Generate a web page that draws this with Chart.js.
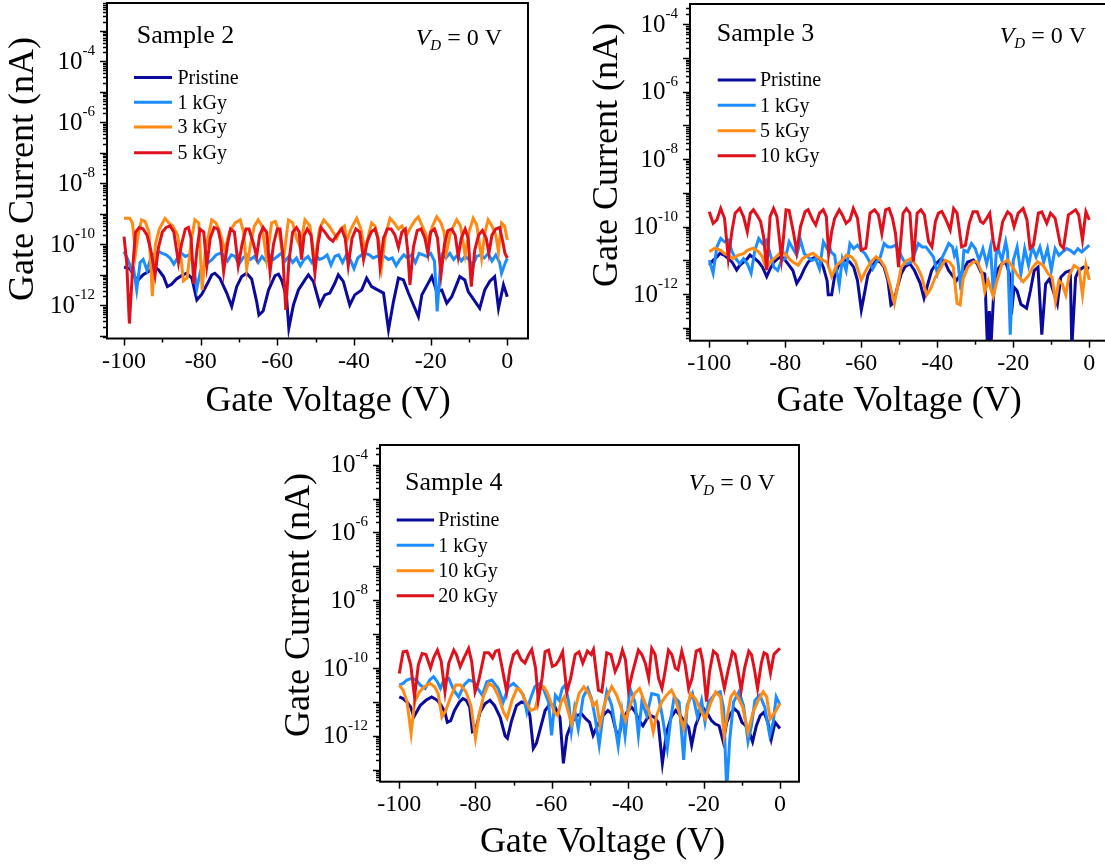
<!DOCTYPE html>
<html>
<head>
<meta charset="utf-8">
<title>Gate current vs gate voltage</title>
<script src="https://cdn.jsdelivr.net/npm/chart.js@4.4.1/dist/chart.umd.min.js"></script>
<style>
  html, body { margin: 0; padding: 0; background: #fff; overflow: hidden; width: 1105px; height: 864px; }
  .panel { position: absolute; }
</style>
</head>
<body>
<div class="panel" style="left:0px;top:0px"><canvas id="sample2" width="560" height="430"></canvas></div>
<div class="panel" style="left:580px;top:0px"><canvas id="sample3" width="560" height="430"></canvas></div>
<div class="panel" style="left:280px;top:440px"><canvas id="sample4" width="560" height="424"></canvas></div>
<script>
// tick values
const voltageMajorTicks = [-100, -80, -60, -40, -20, 0];
const voltageMinorTicks = [-90, -70, -50, -30, -10];
const decadeLabels = [-4, -6, -8, -10, -12];

const seriesColors = ['#0a0a9e', '#1b8dff', '#ff8a14', '#e0101c'];

// each point: [gate voltage (V), log10 of gate current (nA)]

// Sample 2
const s2Labels = ['Pristine', '1 kGy', '3 kGy', '5 kGy'];
const s2Pristine = [[-100,-10.75],[-98.5,-10.8],[-97,-11.1],[-96.3,-11.17],[-95,-11.0],[-93.7,-10.9],[-92,-10.75],[-91,-10.84],[-89.7,-11.06],[-88.7,-11.39],[-87.6,-11.31],[-86.3,-11.14],[-85,-11.03],[-83.7,-10.95],[-82.3,-11.11],[-81,-11.83],[-79.7,-11.64],[-78.4,-11.33],[-77.1,-11.0],[-76.3,-10.95],[-75,-11.11],[-73.2,-11.6],[-71.9,-12.04],[-70.6,-11.39],[-69.3,-11.06],[-68,-10.95],[-66.7,-11.14],[-65.4,-11.88],[-64.8,-12.32],[-63.7,-12.19],[-62.3,-11.5],[-60.6,-11.03],[-59.7,-10.98],[-58.9,-11.17],[-57.6,-11.72],[-57,-12.75],[-55.8,-11.99],[-54.5,-11.5],[-52.8,-11.17],[-51.9,-11.0],[-50.6,-11.22],[-48.9,-11.99],[-47.6,-11.66],[-46.3,-11.6],[-45,-11.28],[-44.1,-11.0],[-42.8,-11.22],[-41.1,-11.99],[-39.8,-11.66],[-38,-11.5],[-36.7,-11.11],[-35.4,-11.39],[-32.3,-11.6],[-31,-12.8],[-29.7,-11.88],[-28.4,-11.11],[-27.1,-11.17],[-25.8,-11.6],[-23.2,-12.37],[-22.3,-11.66],[-19.7,-11.06],[-18.4,-11.55],[-17.1,-11.5],[-15.8,-11.93],[-14.5,-11.72],[-12.4,-11.06],[-11.1,-11.17],[-10.2,-11.55],[-7.2,-12.1],[-5.9,-11.5],[-4.6,-11.22],[-3.3,-11.06],[-2.3,-12.1],[-1,-11.33],[0,-11.72]];
const s2Kgy1 = [[-100,-10.24],[-99,-10.5],[-98,-10.85],[-97.5,-10.8],[-96.7,-11.5],[-95.8,-10.6],[-95,-10.5],[-94,-10.85],[-93,-10.45],[-92,-10.3],[-91,-10.24],[-90,-10.3],[-89,-10.35],[-88,-10.45],[-87,-10.65],[-86,-10.45],[-85,-10.3],[-84,-10.4],[-83,-10.35],[-82,-10.6],[-81,-11.45],[-80,-10.85],[-79,-10.7],[-78,-10.6],[-77,-10.5],[-76,-10.35],[-75,-10.3],[-74,-10.35],[-73,-10.55],[-72,-10.35],[-71,-10.4],[-70,-10.65],[-69,-10.45],[-68,-10.35],[-67,-10.5],[-66,-10.4],[-65,-10.6],[-64,-10.4],[-63,-10.55],[-62,-10.35],[-61,-10.5],[-60,-10.4],[-59,-10.3],[-58,-10.55],[-57,-10.4],[-56,-10.6],[-55,-10.45],[-54,-10.7],[-53,-10.5],[-52,-10.4],[-51,-10.6],[-50,-10.35],[-49,-10.5],[-48,-10.45],[-47,-10.35],[-46,-10.68],[-45,-10.4],[-44,-10.35],[-43,-10.6],[-42,-10.35],[-41,-10.5],[-40,-10.8],[-39,-10.45],[-38,-10.35],[-37,-10.3],[-36,-10.35],[-35,-10.45],[-34,-10.4],[-33,-10.35],[-32,-10.4],[-31,-10.5],[-30,-10.45],[-29,-10.7],[-28,-10.5],[-27,-10.35],[-26,-10.45],[-25,-10.35],[-24,-10.6],[-23,-10.3],[-22,-10.35],[-21,-10.4],[-20,-10.3],[-19,-10.55],[-18.3,-12.2],[-17.5,-10.8],[-17,-10.35],[-16,-10.45],[-15,-10.3],[-14,-10.5],[-13,-10.35],[-12,-10.55],[-11,-10.4],[-10,-10.5],[-9,-10.7],[-8,-10.4],[-7,-10.35],[-6,-10.45],[-5,-10.3],[-4,-10.55],[-3,-10.35],[-2,-10.6],[-1.5,-10.95],[-0.5,-10.6],[0,-10.46]];
const s2Kgy3 = [[-100,-9.15],[-98.5,-9.15],[-97.8,-9.3],[-97,-10.3],[-96.2,-9.6],[-95.4,-9.2],[-94.5,-9.25],[-93.5,-9.6],[-92.6,-11.7],[-91.8,-10.0],[-90.8,-9.5],[-89.3,-9.15],[-88.3,-9.3],[-87.3,-9.4],[-86,-9.7],[-85,-10.6],[-84.5,-11.2],[-83.5,-11.1],[-82.5,-9.9],[-81.5,-9.2],[-80.5,-9.3],[-79.6,-11.5],[-78.8,-10.2],[-77.1,-9.2],[-76,-9.3],[-75,-9.6],[-73.7,-10.2],[-72.5,-9.6],[-71,-9.3],[-69.7,-9.2],[-68.8,-9.6],[-68,-10.8],[-67,-10.0],[-66,-9.4],[-65,-9.2],[-64,-9.4],[-62.8,-10.5],[-62,-9.8],[-61.5,-9.3],[-60.5,-9.25],[-59.5,-9.6],[-58.4,-10.5],[-57.5,-9.6],[-57.1,-9.2],[-56,-9.3],[-55,-9.8],[-54,-10.1],[-52.8,-9.2],[-51.5,-9.4],[-50.2,-10.57],[-49,-9.5],[-47.9,-9.2],[-46.5,-9.4],[-45.5,-9.6],[-44.5,-9.8],[-43.5,-9.5],[-42.5,-9.4],[-41.9,-9.9],[-40.8,-9.5],[-39.3,-9.15],[-38.2,-9.5],[-37.1,-10.24],[-36.2,-9.7],[-35.4,-9.3],[-34.5,-9.4],[-33.5,-9.9],[-32.8,-10.73],[-31.8,-9.7],[-30.6,-9.15],[-29.5,-9.3],[-28.4,-9.5],[-27.5,-9.4],[-26.3,-9.7],[-25,-9.4],[-24,-9.2],[-23.2,-9.1],[-22.2,-9.4],[-21.5,-9.6],[-20.7,-9.9],[-19.5,-9.4],[-18.4,-9.1],[-17.3,-9.3],[-16.5,-9.6],[-15.9,-10.3],[-14.8,-9.6],[-13.2,-9.2],[-12.2,-9.4],[-11,-10.35],[-10,-9.6],[-8.9,-9.15],[-8,-9.35],[-6.7,-10.46],[-5.8,-9.6],[-5,-9.2],[-4,-9.4],[-3,-9.7],[-2.3,-10.25],[-1.5,-9.3],[-0.7,-9.4],[0,-9.86]];
const s2Kgy5 = [[-100,-9.75],[-99.3,-10.6],[-98.6,-12.6],[-97.8,-10.9],[-97,-9.6],[-96,-9.45],[-95,-9.5],[-94,-9.7],[-93,-10.2],[-91.9,-11.0],[-91,-10.1],[-90,-9.6],[-89,-9.45],[-88,-9.4],[-87,-9.6],[-85.8,-10.6],[-85,-10.0],[-84,-9.5],[-83.2,-9.45],[-82.5,-9.8],[-81.8,-11.3],[-81,-10.2],[-80.2,-9.5],[-79.2,-9.6],[-78.4,-10.7],[-77.5,-9.8],[-76.5,-9.45],[-75.5,-9.5],[-74.8,-9.9],[-74,-10.9],[-73,-10.0],[-72.2,-9.5],[-71.2,-9.6],[-70.2,-10.7],[-69.2,-10.0],[-68.2,-9.5],[-67.4,-9.5],[-66.4,-9.9],[-65.4,-10.4],[-64.6,-9.7],[-63.7,-9.45],[-62.8,-9.6],[-61.9,-10.9],[-61,-10.0],[-60,-9.5],[-59.3,-9.5],[-58.6,-10.3],[-57.8,-12.15],[-57,-10.6],[-56,-9.6],[-55,-9.45],[-54.3,-9.6],[-53.7,-10.5],[-53,-9.7],[-52.2,-9.5],[-51.2,-9.7],[-50.2,-10.95],[-49.4,-10.0],[-48.6,-9.45],[-47.6,-9.6],[-46.5,-9.8],[-45.5,-9.9],[-44.5,-9.7],[-43.2,-9.5],[-42.3,-9.8],[-41.5,-10.7],[-40.5,-9.8],[-39.5,-9.5],[-38.5,-9.6],[-37.5,-10.5],[-36.5,-9.9],[-35.5,-9.6],[-34.5,-9.5],[-33.8,-9.8],[-33.2,-10.73],[-32.3,-9.8],[-31.3,-9.5],[-30.3,-9.5],[-29.3,-9.7],[-28.4,-10.1],[-27.5,-9.6],[-26.6,-9.5],[-26,-10.2],[-25.4,-11.33],[-24.5,-10.1],[-23.5,-9.55],[-22.5,-9.5],[-21.5,-9.8],[-20.7,-10.3],[-20,-9.6],[-19,-9.5],[-18.2,-9.8],[-17.3,-11.0],[-16.4,-10.0],[-15.5,-9.55],[-14.5,-9.5],[-13.6,-9.7],[-12.8,-10.4],[-12,-9.8],[-11,-9.5],[-10.2,-9.8],[-9.4,-11.39],[-8.5,-10.2],[-7.5,-9.7],[-6.5,-9.55],[-5.5,-9.8],[-4.8,-10.3],[-4,-9.7],[-3,-9.5],[-2,-9.45],[-1.2,-9.9],[-0.6,-10.3],[0,-10.45]];

// Sample 3
const s3Labels = ['Pristine', '1 kGy', '5 kGy', '10 kGy'];
const s3Pristine = [[-100,-11.14],[-99,-11.0],[-98,-10.9],[-97.2,-10.79],[-96,-10.85],[-95,-10.95],[-94,-11.05],[-92.8,-11.28],[-92,-11.15],[-91,-11.05],[-90,-10.95],[-89.3,-10.84],[-88,-10.95],[-87,-11.05],[-86,-11.2],[-84.9,-11.48],[-84,-11.25],[-83,-11.05],[-82,-10.95],[-81,-10.89],[-80,-11.0],[-79,-11.15],[-78,-11.3],[-77,-11.68],[-76,-11.5],[-75,-11.25],[-74,-11.05],[-73,-10.95],[-72,-10.9],[-71,-10.95],[-70,-11.2],[-69,-11.6],[-68.7,-12.02],[-67.8,-12.02],[-67,-11.45],[-66,-11.15],[-65,-11.05],[-64,-10.99],[-63,-11.05],[-62,-11.2],[-61,-11.6],[-60,-12.47],[-59.2,-12.0],[-58.3,-11.45],[-57,-11.15],[-56,-10.99],[-55,-11.05],[-54,-11.2],[-53,-11.6],[-52.2,-12.32],[-51.5,-12.25],[-50.5,-11.8],[-49.5,-11.4],[-48.5,-11.19],[-47.2,-11.1],[-46,-11.3],[-44.5,-11.68],[-43.5,-12.12],[-42.5,-11.7],[-41.5,-11.3],[-40.3,-11.1],[-39,-10.95],[-38,-11.05],[-37,-11.3],[-36,-11.45],[-35,-11.6],[-33.5,-11.35],[-32,-11.05],[-30.5,-10.99],[-29.5,-11.1],[-28.5,-11.35],[-27.5,-11.4],[-26.8,-13.6],[-26.3,-12.5],[-25.9,-13.6],[-25,-11.6],[-24,-11.25],[-23,-11.1],[-22,-11.05],[-21,-11.4],[-20.5,-12.6],[-19.8,-11.8],[-19,-11.9],[-18,-12.3],[-16.5,-12.42],[-15.5,-11.9],[-14.5,-11.3],[-13.5,-11.2],[-12.5,-13.2],[-11.5,-11.7],[-10.5,-11.55],[-9.5,-11.9],[-8.4,-12.3],[-7.5,-11.5],[-6.2,-11.35],[-5,-11.3],[-4.6,-13.6],[-3.6,-11.5],[-2.8,-11.3],[-1.5,-11.2],[0,-11.23]];
const s3Kgy1 = [[-100,-10.99],[-99,-11.38],[-98,-10.6],[-97,-10.35],[-96,-10.45],[-95,-10.4],[-94,-10.75],[-93,-10.95],[-92,-11.1],[-91,-10.95],[-90,-11.1],[-89,-11.38],[-88,-10.7],[-87,-10.35],[-86,-10.5],[-85,-10.4],[-84,-10.8],[-83,-11.2],[-82,-11.3],[-81,-11.0],[-80,-10.95],[-79,-10.45],[-78,-10.65],[-77,-10.85],[-76,-10.4],[-75,-10.8],[-74,-10.9],[-73,-11.0],[-72,-10.95],[-71,-11.25],[-70,-10.45],[-69,-10.65],[-68.5,-10.5],[-68,-10.75],[-67,-10.85],[-66.5,-11.3],[-65.8,-11.73],[-65,-10.95],[-64,-11.3],[-63,-10.5],[-62,-10.65],[-61,-10.55],[-60,-10.7],[-59,-10.8],[-58,-11.0],[-57,-11.25],[-56,-11.05],[-55,-10.9],[-54,-10.5],[-53,-10.6],[-52,-10.6],[-51,-10.55],[-50,-10.74],[-49,-10.98],[-48,-11.1],[-47,-11.05],[-46,-10.8],[-45,-10.5],[-44,-10.6],[-43,-10.6],[-42,-10.75],[-41,-10.9],[-40,-11.38],[-39,-10.98],[-38,-10.75],[-37,-10.5],[-36,-10.6],[-35.5,-10.85],[-35,-10.7],[-34.5,-11.1],[-33.8,-11.88],[-33,-10.7],[-32,-10.75],[-31,-10.5],[-30,-10.65],[-29,-11.0],[-28,-10.65],[-27,-11.1],[-26,-10.6],[-25.2,-12.07],[-24.5,-10.8],[-24,-10.65],[-23,-11.0],[-22,-10.45],[-21.5,-10.75],[-20.8,-13.2],[-20,-11.0],[-19,-10.6],[-18,-11.4],[-17,-10.65],[-16,-11.15],[-15,-10.6],[-14,-10.9],[-13,-10.6],[-12,-11.05],[-11,-10.65],[-10,-11.3],[-9,-10.65],[-8,-10.85],[-7,-10.75],[-6,-10.65],[-5,-10.7],[-4,-10.8],[-3,-10.65],[-2,-10.75],[-1,-10.65],[0,-10.55]];
const s3Kgy5 = [[-100,-10.74],[-98.5,-10.64],[-97,-10.7],[-96,-10.8],[-95,-10.85],[-93.7,-10.94],[-92.5,-10.85],[-91,-10.8],[-90,-10.7],[-88.5,-10.64],[-87,-10.75],[-86,-10.9],[-85.5,-11.1],[-84.9,-11.23],[-84,-11.05],[-82.5,-10.9],[-81,-10.74],[-80,-10.8],[-79,-10.95],[-78,-11.05],[-76.6,-11.14],[-75.5,-10.95],[-74,-10.85],[-72.7,-10.79],[-71.5,-10.9],[-70,-11.0],[-69,-11.05],[-67.8,-11.48],[-66.5,-11.15],[-65,-10.99],[-63.9,-10.84],[-62.5,-10.9],[-61.5,-11.05],[-60,-11.58],[-58.8,-11.3],[-57.5,-11.05],[-56.1,-10.89],[-55,-10.99],[-53.8,-11.2],[-52.5,-11.7],[-51.3,-12.27],[-50.5,-11.8],[-49.5,-11.2],[-48,-11.0],[-47,-10.95],[-45.5,-11.15],[-44.2,-11.45],[-42.8,-12.02],[-41.8,-11.85],[-40.5,-11.5],[-39,-11.2],[-38,-10.99],[-36.8,-11.05],[-35.8,-11.2],[-34.8,-12.27],[-34,-12.32],[-33.2,-11.55],[-32,-11.2],[-30.5,-11.04],[-29.5,-11.04],[-28.3,-11.35],[-27.5,-11.93],[-26.6,-11.6],[-25.3,-12.07],[-24.5,-11.7],[-23,-11.1],[-21.5,-10.99],[-20.2,-11.19],[-18.8,-11.45],[-17.4,-11.63],[-16,-11.45],[-14.8,-11.19],[-13.6,-11.04],[-12.2,-11.14],[-10.8,-11.4],[-9.8,-11.5],[-8.9,-12.22],[-8,-11.6],[-7.1,-11.7],[-6.2,-12.02],[-5.3,-11.45],[-4,-11.15],[-2.7,-11.25],[-1.8,-12.02],[-0.9,-11.14],[0,-11.58]];
const s3Kgy10 = [[-100,-9.56],[-99,-9.9],[-98,-9.8],[-97,-9.46],[-96,-9.75],[-95,-10.94],[-94,-10.1],[-93.2,-9.6],[-92,-9.46],[-91,-9.7],[-90,-10.15],[-89.2,-9.6],[-88.4,-9.5],[-87.5,-9.65],[-86.5,-9.85],[-85.7,-10.3],[-84.9,-11.28],[-84,-9.7],[-83.1,-9.46],[-82.2,-9.7],[-81,-10.94],[-79.8,-9.5],[-79,-9.52],[-77.8,-10.2],[-77,-10.74],[-76,-10.0],[-74.8,-9.56],[-74,-9.5],[-72.8,-9.8],[-72,-9.95],[-71,-9.6],[-70,-9.5],[-69.2,-9.7],[-68.6,-10.79],[-67.8,-10.15],[-67,-9.75],[-65.8,-9.5],[-65,-9.65],[-64,-9.9],[-63,-9.8],[-62.1,-9.46],[-61,-9.75],[-60,-10.69],[-58.8,-10.64],[-57.7,-9.6],[-56.5,-9.5],[-55.5,-9.65],[-54.6,-10.2],[-53.6,-9.5],[-52.7,-9.46],[-51.8,-9.75],[-51,-10.2],[-50.2,-11.2],[-49,-9.6],[-48.1,-9.46],[-47.2,-9.6],[-46.3,-11.04],[-45.3,-9.6],[-44.3,-9.5],[-43.4,-9.65],[-42.3,-10.44],[-41.4,-10.6],[-40.5,-9.85],[-39.7,-9.6],[-38.8,-9.55],[-37.9,-9.75],[-36.6,-10.1],[-35.7,-9.46],[-34.8,-9.6],[-33.6,-10.6],[-32.6,-10.55],[-31.6,-9.9],[-30.6,-9.56],[-29.5,-9.56],[-28.6,-9.85],[-27.9,-9.9],[-27,-9.75],[-26.2,-9.6],[-25.3,-10.4],[-24.8,-10.69],[-24,-10.64],[-22.8,-9.85],[-21.5,-9.56],[-20.6,-9.65],[-19.8,-10.0],[-18.7,-9.6],[-17.4,-9.46],[-16.4,-9.8],[-15.6,-10.64],[-14.7,-10.55],[-13.4,-9.6],[-12.5,-9.56],[-11.2,-9.9],[-10.2,-9.6],[-9,-9.75],[-7.6,-10.54],[-6.8,-10.64],[-5.5,-9.65],[-3.6,-9.5],[-2.8,-9.65],[-1.8,-10.4],[-0.9,-9.56],[0,-9.8]];

// Sample 4
const s4Labels = ['Pristine', '1 kGy', '10 kGy', '20 kGy'];
const s4Pristine = [[-100,-10.85],[-99,-10.9],[-98,-11.0],[-97,-11.15],[-96.2,-11.44],[-95.5,-11.3],[-94.5,-11.1],[-93,-10.95],[-91.5,-10.85],[-90,-10.95],[-89,-11.1],[-88,-11.3],[-87.4,-11.6],[-86.5,-11.55],[-85.5,-11.25],[-84.2,-11.0],[-83.3,-10.9],[-82.4,-10.95],[-81.5,-11.15],[-80.8,-11.88],[-80,-11.85],[-78.8,-11.3],[-77.5,-11.05],[-76.2,-10.95],[-75,-11.1],[-73.5,-11.45],[-72.2,-12.0],[-71.6,-12.07],[-70.5,-11.55],[-69.2,-11.1],[-67.9,-11.0],[-66.6,-11.05],[-65.7,-11.4],[-64.8,-12.37],[-64,-12.22],[-63,-11.8],[-61.7,-11.25],[-60.4,-11.05],[-59.1,-11.15],[-57.8,-11.45],[-56.9,-12.81],[-56,-12.0],[-54.7,-11.6],[-53.4,-11.4],[-52.1,-11.35],[-51,-11.5],[-50,-11.6],[-49.1,-11.98],[-47.8,-11.65],[-46.5,-11.4],[-45.2,-11.25],[-44.2,-11.35],[-43.2,-11.8],[-42.4,-12.07],[-41.5,-11.55],[-40.2,-11.3],[-39,-11.15],[-38,-11.3],[-37,-11.55],[-36,-11.7],[-35,-11.5],[-34,-11.4],[-33,-11.45],[-32,-11.6],[-30.9,-12.81],[-29.8,-11.9],[-28.6,-11.45],[-27.4,-11.25],[-26.2,-11.4],[-25,-11.6],[-24,-11.75],[-23.2,-12.27],[-22.2,-11.7],[-21,-11.35],[-20,-11.2],[-19,-11.35],[-18,-11.55],[-17,-11.65],[-16,-11.7],[-14.9,-12.17],[-14,-11.6],[-13,-11.35],[-12,-11.2],[-11,-11.3],[-10,-11.6],[-9,-11.7],[-8,-11.9],[-7.2,-12.17],[-6.2,-11.7],[-5.2,-11.4],[-4.2,-11.3],[-3.2,-11.6],[-2.3,-12.1],[-1.3,-11.6],[0,-11.78]];
const s4Kgy1 = [[-100,-10.5],[-99,-10.45],[-98,-10.35],[-96.7,-10.3],[-95.5,-10.35],[-94.5,-10.5],[-93.2,-10.6],[-92,-10.35],[-91,-10.25],[-90,-10.4],[-89.2,-10.6],[-88.3,-10.35],[-87,-10.3],[-85.7,-10.65],[-84.4,-10.85],[-83,-10.5],[-81.7,-10.35],[-80.4,-10.4],[-79.1,-10.65],[-78.2,-10.8],[-77,-10.4],[-75.7,-10.35],[-74,-10.6],[-72.7,-11.0],[-71.3,-10.55],[-70,-10.45],[-68.7,-10.6],[-67.4,-10.8],[-66.5,-11.3],[-65.7,-10.95],[-64.4,-10.55],[-63,-10.45],[-62,-10.65],[-60.8,-11.0],[-60,-11.98],[-59,-10.8],[-58,-10.95],[-57.2,-10.6],[-56.4,-10.5],[-55.5,-11.0],[-54.8,-11.85],[-54,-11.2],[-53,-11.8],[-51.7,-10.85],[-50.5,-10.6],[-49.5,-10.9],[-48.5,-11.5],[-47.5,-12.27],[-46.4,-11.3],[-45.5,-10.7],[-44.2,-11.1],[-42.5,-12.3],[-41.5,-11.3],[-40.7,-12.0],[-39.4,-10.6],[-38.1,-11.0],[-37.2,-11.98],[-36.3,-11.0],[-35,-11.4],[-33.7,-10.75],[-32,-10.8],[-30.9,-11.43],[-29.6,-12.37],[-28.7,-11.5],[-27.8,-10.85],[-26.5,-11.0],[-25.3,-12.71],[-24.4,-11.1],[-23,-10.75],[-21.7,-11.43],[-20.6,-10.95],[-19.7,-11.6],[-18.8,-11.0],[-17,-10.75],[-15.7,-10.7],[-14.8,-11.2],[-14,-13.6],[-13.2,-12.1],[-12.2,-11.0],[-10.8,-10.7],[-9.6,-11.1],[-8.4,-12.17],[-7.5,-11.7],[-6.6,-10.95],[-5.3,-10.8],[-4,-11.15],[-2.7,-11.98],[-1.8,-11.6],[-1,-10.85],[0,-11.09]];
const s4Kgy10 = [[-100,-10.5],[-99,-10.65],[-98,-10.98],[-96.9,-11.93],[-96,-11.0],[-94.7,-10.7],[-93.4,-10.55],[-92,-10.45],[-90.7,-10.55],[-89.8,-10.75],[-88.8,-11.44],[-87.8,-11.25],[-86.5,-10.85],[-85.2,-10.5],[-83.9,-10.5],[-82.5,-10.7],[-81.2,-11.1],[-80,-12.07],[-79.1,-11.4],[-77.8,-10.8],[-76.5,-10.45],[-75.2,-10.55],[-73.9,-10.85],[-72.6,-11.3],[-71.7,-11.48],[-70.4,-10.95],[-69.1,-10.6],[-68.2,-10.65],[-66.9,-10.95],[-65.5,-11.25],[-64.3,-11.2],[-63,-10.6],[-62.1,-10.55],[-61.2,-10.7],[-60.2,-11.0],[-59.3,-11.3],[-58.4,-11.4],[-57.5,-11.0],[-56.7,-10.85],[-55.6,-11.3],[-54.7,-11.65],[-53.7,-11.15],[-52.8,-10.75],[-51.5,-10.55],[-50.2,-10.75],[-49,-11.1],[-48.2,-11.0],[-47.3,-11.68],[-46.2,-11.1],[-45.3,-10.8],[-44.2,-10.55],[-42.9,-10.8],[-41.5,-11.25],[-40.6,-11.55],[-39.5,-11.15],[-38.2,-10.75],[-36.9,-10.6],[-35.6,-11.0],[-34.3,-11.3],[-33.3,-11.88],[-32.4,-11.4],[-31.1,-11.0],[-29.8,-10.8],[-28.5,-10.65],[-27.6,-10.85],[-26.3,-11.4],[-25.3,-11.78],[-24.4,-11.2],[-23.5,-10.75],[-22.2,-10.9],[-20.8,-11.25],[-19.6,-11.5],[-18.3,-11.05],[-16.9,-10.7],[-15.6,-10.85],[-14.7,-11.98],[-13.8,-11.4],[-12.9,-10.85],[-12,-10.7],[-10.7,-10.95],[-9.8,-11.15],[-8.4,-11.9],[-7.1,-11.3],[-5.7,-10.95],[-4.4,-10.7],[-3.5,-10.85],[-2.6,-11.5],[-1.3,-11.3],[0,-11.04]];
const s4Kgy20 = [[-100,-10.16],[-99,-9.52],[-98,-9.5],[-97,-9.9],[-96,-10.85],[-95,-9.9],[-94,-9.57],[-93,-9.6],[-91.8,-10.0],[-91,-9.7],[-90,-9.47],[-89,-9.8],[-88,-10.7],[-87,-9.85],[-85.7,-9.47],[-85,-9.6],[-84,-9.96],[-83,-9.7],[-81.8,-9.42],[-81,-9.8],[-80.1,-10.7],[-79.2,-10.4],[-77.6,-9.55],[-76.5,-9.55],[-75.5,-9.7],[-74.7,-9.5],[-73.9,-9.47],[-72.8,-10.1],[-71.8,-10.7],[-70.9,-10.0],[-70,-9.6],[-69,-9.5],[-68,-9.75],[-67,-9.85],[-66,-9.6],[-65.2,-9.45],[-64.2,-10.0],[-63.5,-10.94],[-62.5,-10.3],[-61.7,-9.52],[-60.8,-9.47],[-59.8,-9.95],[-58.9,-9.9],[-58,-9.75],[-57.1,-9.52],[-56,-10.7],[-55,-10.3],[-53.8,-9.6],[-52.8,-9.52],[-51.8,-9.85],[-50.6,-9.5],[-49.6,-9.6],[-49,-9.45],[-47.7,-10.65],[-46.8,-10.7],[-45.5,-9.55],[-44.4,-9.6],[-43.3,-10.1],[-42.3,-9.85],[-41.4,-9.47],[-40.6,-9.75],[-39.8,-10.65],[-38.9,-10.2],[-37.2,-9.47],[-36.3,-9.6],[-35.4,-9.85],[-34.5,-10.3],[-33.7,-9.42],[-32.8,-9.6],[-31.9,-10.3],[-31,-10.6],[-30.2,-10.1],[-29.3,-9.47],[-28.4,-9.6],[-27.5,-10.0],[-26.8,-10.05],[-25.8,-9.5],[-24.9,-9.9],[-24,-10.6],[-23.1,-10.3],[-22,-9.5],[-21,-9.45],[-20.3,-9.8],[-19.3,-10.99],[-18.5,-10.1],[-17.5,-9.5],[-16.5,-9.6],[-15.5,-10.1],[-14.6,-10.6],[-13.7,-10.1],[-12.5,-9.52],[-11.8,-9.6],[-11,-10.1],[-10.2,-10.65],[-9.3,-10.0],[-8.2,-9.5],[-7.5,-9.6],[-6.7,-10.05],[-5.9,-10.6],[-4.9,-9.85],[-4.2,-9.55],[-3.4,-9.6],[-2.5,-10.15],[-1.6,-9.6],[-0.8,-9.5],[0,-9.42]];

const SERIF = '"Liberation Serif", "Times New Roman", serif';

// where each panel's frame, legend and captions sit inside its canvas
const panels = [
  {
    canvas: 'sample2', title: 'Sample 2', labels: s2Labels,
    series: [s2Pristine, s2Kgy1, s2Kgy3, s2Kgy5],
    padding: { left: 107, top: 3, right: 32, bottom: 91.5 },
    xRange: [-104.44, 5.4], expRange: [-13.09, -2.09],
    titleAt: [136.7, 42.8], vdRight: [502, 44.5],
    legendLine: [134, 172], legendText: 177.5, legendRows: [77.6, 102.3, 127.1, 152.8],
    yTitleAt: [24, 169], xTitleAt: [328, 411]
  },
  {
    canvas: 'sample3', title: 'Sample 3', labels: s3Labels,
    series: [s3Pristine, s3Kgy1, s3Kgy5, s3Kgy10],
    padding: { left: 110, top: 4, right: 31.7, bottom: 89.3 },
    xRange: [-105.08, 5.0], expRange: [-13.38, -3.4],
    titleAt: [136.7, 40.7], vdRight: [506, 43.3],
    legendLine: [137.7, 175.7], legendText: 180, legendRows: [80, 105.3, 130.7, 155.7],
    yTitleAt: [28, 155], xTitleAt: [319, 411]
  },
  {
    canvas: 'sample4', title: 'Sample 4', labels: s4Labels,
    series: [s4Pristine, s4Kgy1, s4Kgy10, s4Kgy20],
    padding: { left: 100, top: 5, right: 41, bottom: 82.3 },
    xRange: [-105.07, 4.99], expRange: [-13.35, -3.42],
    titleAt: [125, 50], vdRight: [495, 50],
    legendLine: [116.7, 154], legendText: 158.3, legendRows: [80, 105.3, 130.7, 155.7],
    yTitleAt: [20, 165], xTitleAt: [322.5, 412]
  }
];

function strokeLine(ctx, x0, y0, x1, y1) {
  ctx.beginPath();
  ctx.moveTo(x0, y0);
  ctx.lineTo(x1, y1);
  ctx.stroke();
}

// frame, ticks, captions and legend drawn over the plotted lines
const panelDecor = {
  id: 'panelDecor',
  afterDatasetsDraw(chart) {
    const p = chart.$panel;
    const ctx = chart.ctx;
    const area = chart.chartArea;
    const xs = chart.scales.x;
    const ys = chart.scales.y;
    ctx.save();
    ctx.strokeStyle = '#000';
    ctx.fillStyle = '#000';

    ctx.lineWidth = 2;
    ctx.strokeRect(area.left, area.top, area.right - area.left, area.bottom - area.top);

    // log ticks on the left
    ctx.lineWidth = 1.5;
    for (let e = Math.floor(p.expRange[0]); e <= Math.ceil(p.expRange[1]); e++) {
      for (let m = 1; m <= 9; m++) {
        const v = m * Math.pow(10, e);
        if (v < ys.min || v > ys.max) continue;
        const y = Math.round(ys.getPixelForValue(v)) + 0.5;
        strokeLine(ctx, area.left - (m === 1 ? 7 : 4), y, area.left, y);
      }
    }
    // voltage ticks below
    voltageMajorTicks.forEach(v => {
      const x = Math.round(xs.getPixelForValue(v)) + 0.5;
      strokeLine(ctx, x, area.bottom, x, area.bottom + 7);
    });
    voltageMinorTicks.forEach(v => {
      const x = Math.round(xs.getPixelForValue(v)) + 0.5;
      strokeLine(ctx, x, area.bottom, x, area.bottom + 4);
    });

    // decade labels as 10 with a raised exponent
    ctx.textBaseline = 'middle';
    decadeLabels.forEach(e => {
      const v = Math.pow(10, e);
      if (v < ys.min || v > ys.max) return;
      const y = ys.getPixelForValue(v);
      const right = area.left - 12;
      ctx.font = '15px ' + SERIF;
      const sup = String(e);
      const supW = ctx.measureText(sup).width;
      ctx.textAlign = 'left';
      ctx.fillText(sup, right - supW, y - 10);
      ctx.font = '25px ' + SERIF;
      ctx.textAlign = 'right';
      ctx.fillText('10', right - supW, y + 1);
    });

    ctx.font = '24px ' + SERIF;
    ctx.textAlign = 'center';
    voltageMajorTicks.forEach(v => {
      ctx.fillText(String(v), xs.getPixelForValue(v), area.bottom + 23);
    });

    // axis titles
    ctx.font = '36px ' + SERIF;
    ctx.textAlign = 'center';
    ctx.textBaseline = 'alphabetic';
    ctx.fillText('Gate Voltage (V)', p.xTitleAt[0], p.xTitleAt[1]);
    ctx.save();
    ctx.translate(p.yTitleAt[0], p.yTitleAt[1]);
    ctx.rotate(-Math.PI / 2);
    ctx.textBaseline = 'middle';
    ctx.fillText('Gate Current (nA)', 0, 0);
    ctx.restore();

    // sample name
    ctx.font = '26px ' + SERIF;
    ctx.textAlign = 'left';
    ctx.fillText(p.title, p.titleAt[0], p.titleAt[1]);

    // drain bias note, V_D = 0 V
    const parts = [
      { text: 'V', font: 'italic 24px ' + SERIF, dy: 0 },
      { text: 'D', font: 'italic 15px ' + SERIF, dy: 5 },
      { text: ' = 0 V', font: '24px ' + SERIF, dy: 0 }
    ];
    let total = 0;
    parts.forEach(part => { ctx.font = part.font; part.w = ctx.measureText(part.text).width; total += part.w; });
    let x = p.vdRight[0] - total;
    parts.forEach(part => {
      ctx.font = part.font;
      ctx.fillText(part.text, x, p.vdRight[1] + part.dy);
      x += part.w;
    });

    // legend
    ctx.font = '20px ' + SERIF;
    ctx.textBaseline = 'middle';
    chart.data.datasets.forEach((ds, i) => {
      const y = p.legendRows[i];
      ctx.strokeStyle = ds.borderColor;
      ctx.lineWidth = 3;
      strokeLine(ctx, p.legendLine[0], y, p.legendLine[1], y);
      ctx.fillText(ds.label, p.legendText, y + 1);
    });
    ctx.restore();
  }
};

panels.forEach(p => {
  const datasets = p.series.map((pts, i) => ({
    label: p.labels[i],
    data: pts.map(([v, e]) => ({ x: v, y: Math.pow(10, e) })),
    borderColor: seriesColors[i],
    borderWidth: 3,
    pointRadius: 0,
    tension: 0,
    order: 4 - i
  }));
  new Chart(document.getElementById(p.canvas), {
    type: 'line',
    data: { datasets },
    options: {
      responsive: false,
      animation: false,
      events: [],
      layout: { padding: p.padding },
      plugins: { legend: { display: false }, tooltip: { enabled: false } },
      scales: {
        x: { type: 'linear', display: false, min: p.xRange[0], max: p.xRange[1] },
        y: { type: 'logarithmic', display: false, min: Math.pow(10, p.expRange[0]), max: Math.pow(10, p.expRange[1]) }
      }
    },
    plugins: [{
      id: 'panelRef',
      beforeInit(c) { c.$panel = p; }
    }, panelDecor]
  });
});
</script>
</body>
</html>
